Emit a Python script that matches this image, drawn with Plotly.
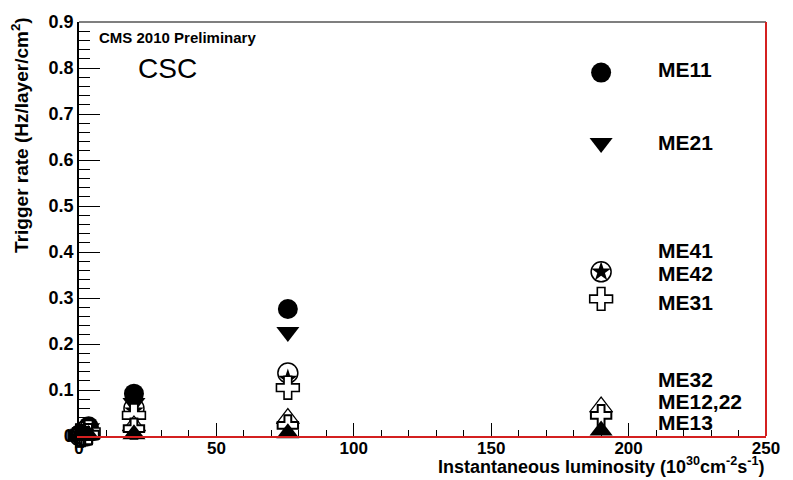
import plotly.graph_objects as go

# ---- data ----
series_names = ["ME11", "ME21", "ME41", "ME42", "ME31", "ME32", "ME12,22", "ME13"]
lumi = [0.2, 0.8, 1.5, 2.2, 3.0, 3.5, 20, 76]
rate_ME11 = [0.003, 0.006, 0.010, 0.013, 0.017, 0.021, 0.092, 0.276]
rate_ME21 = [0.002, 0.005, 0.008, 0.011, 0.014, 0.017, 0.072, 0.226]
rate_ME41 = [0.001, 0.003, 0.005, 0.007, 0.009, 0.011, 0.060, 0.137]
rate_ME42 = [0.001, 0.003, 0.005, 0.006, 0.008, 0.010, 0.055, 0.124]
rate_ME31 = [0.001, 0.002, 0.004, 0.005, 0.007, 0.009, 0.045, 0.105]
rate_ME32 = [0.000, 0.001, 0.002, 0.003, 0.004, 0.005, 0.022, 0.038]
rate_ME1222 = [0.000, 0.001, 0.002, 0.002, 0.003, 0.004, 0.016, 0.023]
rate_ME13 = [0.000, 0.000, 0.001, 0.001, 0.001, 0.002, 0.004, 0.006]
rates = [rate_ME11, rate_ME21, rate_ME41, rate_ME42, rate_ME31, rate_ME32, rate_ME1222, rate_ME13]

# legend (drawn inside the frame, as in the original)
legend_marker_x = 190
legend_marker_y = [0.79, 0.637, 0.357, 0.357, 0.298, 0.063, 0.045, 0.012]
legend_label_x = 210
legend_label_y = [0.797, 0.637, 0.404, 0.353, 0.291, 0.123, 0.076, 0.030]

x_ticks = [0, 50, 100, 150, 200, 250]
y_ticks = [0, 0.1, 0.2, 0.3, 0.4, 0.5, 0.6, 0.7, 0.8, 0.9]

# ---- styles ----
styles = [
    dict(symbol="circle", size=20, color="black", line=dict(width=0)),
    dict(symbol="triangle-down", size=20, color="black", line=dict(width=0)),
    dict(symbol="circle-open", size=20, color="black", line=dict(width=1.5, color="black")),
    dict(symbol="star", size=15, color="black", line=dict(width=0)),
    dict(symbol="cross", size=19, color="white", line=dict(width=1.6, color="black")),
    dict(symbol="triangle-up", size=20, color="white", line=dict(width=1.2, color="black")),
    dict(symbol="cross", size=17, color="white", line=dict(width=2, color="black")),
    dict(symbol="triangle-up", size=20, color="black", line=dict(width=0)),
]

FONT = "Liberation Sans, Arial, Helvetica, sans-serif"
RED = "#d42020"

fig = go.Figure()
for name, r, st in zip(series_names, rates, styles):
    fig.add_trace(go.Scatter(x=lumi, y=r, mode="markers", name=name,
                             marker=st, showlegend=False, cliponaxis=False))
for name, ly, st in zip(series_names, legend_marker_y, styles):
    fig.add_trace(go.Scatter(x=[legend_marker_x], y=[ly], mode="markers", name=name,
                             marker=st, showlegend=False))

annotations = []
for name, ly in zip(series_names, legend_label_y):
    annotations.append(dict(x=legend_label_x, y=ly, xref="x", yref="y", text=name,
                            showarrow=False, xanchor="left", yanchor="middle",
                            font=dict(family=FONT, size=21, color="black", weight="bold")))
annotations += [
    dict(x=0.026, y=0.963, xref="paper", yref="paper", text="CMS 2010 Preliminary",
         showarrow=False, xanchor="left", yanchor="middle",
         font=dict(family=FONT, size=15, color="black", weight="bold")),
    dict(x=0.083, y=0.887, xref="paper", yref="paper", text="CSC",
         showarrow=False, xanchor="left", yanchor="middle",
         font=dict(family=FONT, size=28, color="black")),
    dict(x=1.002, y=-0.104, xref="paper", yref="paper",
         text="Instantaneous luminosity (10<sup>30</sup>cm<sup>-2</sup>s<sup>-1</sup>)",
         showarrow=False, xanchor="right", yanchor="bottom",
         font=dict(family=FONT, size=18, color="black", weight="bold")),
    dict(x=-0.086, y=1.017, xref="paper", yref="paper",
         text="Trigger rate (Hz/layer/cm<sup>2</sup>)", textangle=-90,
         showarrow=False, xanchor="center", yanchor="top",
         font=dict(family=FONT, size=19, color="black", weight="bold")),
]

fig.update_layout(
    width=793, height=480,
    margin=dict(l=79, r=27, t=15, b=44),
    plot_bgcolor="white", paper_bgcolor="white",
    font=dict(family=FONT, color="black"),
    annotations=annotations,
    shapes=[
        dict(type="line", xref="paper", yref="paper", x0=0, x1=1, y0=1, y1=1,
             line=dict(color="#555555", width=1.5)),
        dict(type="line", xref="paper", yref="paper", x0=1, x1=1, y0=0, y1=1,
             line=dict(color=RED, width=2)),
    ],
)
fig.update_xaxes(
    range=[0, 250], tickvals=x_ticks, ticktext=[str(v) for v in x_ticks],
    showgrid=False, zeroline=False, showline=True, linecolor=RED, linewidth=1.5,
    ticks="inside", ticklen=13, tickcolor="black", tickwidth=1.2,
    minor=dict(dtick=10, ticks="inside", ticklen=6, tickcolor="black", tickwidth=1, showgrid=False),
    tickfont=dict(family=FONT, size=17, color="black", weight="bold"),
    ticklabelstandoff=-4,
)
fig.update_yaxes(
    range=[0, 0.9], tickvals=y_ticks, ticktext=["0"] + [f"{v:.1f}" for v in y_ticks[1:]],
    showgrid=False, zeroline=False, showline=True, linecolor="black", linewidth=1.5,
    ticks="inside", ticklen=21, tickcolor="black", tickwidth=1.2,
    minor=dict(dtick=0.02, ticks="inside", ticklen=11, tickcolor="black", tickwidth=1, showgrid=False),
    tickfont=dict(family=FONT, size=18, color="black", weight="bold"),
)

fig.write_html("out.html")
